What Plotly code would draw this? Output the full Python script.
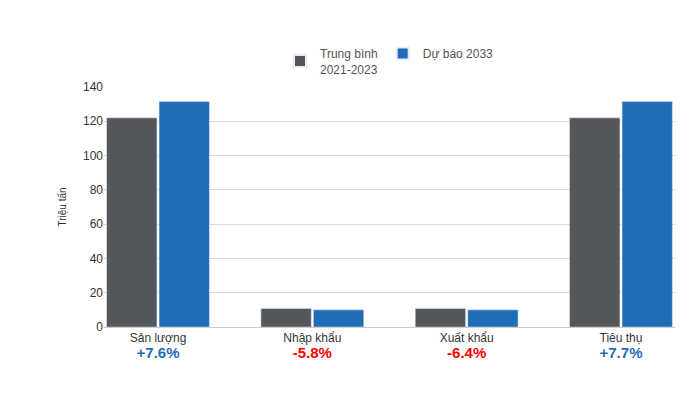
import plotly.graph_objects as go

categories = ["Sản lượng", "Nhập khẩu", "Xuất khẩu", "Tiêu thụ"]
changes = ["+7.6%", "-5.8%", "-6.4%", "+7.7%"]
avg_2021_2023 = [122, 10.8, 10.8, 122]
forecast_2033 = [131.5, 10.0, 10.0, 131.5]

ticktext = []
for c, ch in zip(categories, changes):
    col = "#1f6eb5" if ch.startswith("+") else "#ff0000"
    ticktext.append(f"{c}<br><span style='color:{col};font-size:15px'><b>{ch}</b></span>")

pos = list(range(len(categories)))
fig = go.Figure()
fig.add_bar(x=pos, y=avg_2021_2023, name="Trung bình<br>2021-2023", marker_color="#54575b")
fig.add_bar(x=pos, y=forecast_2033, name="Dự báo 2033", marker_color="#1f6eb5")
fig.update_layout(
    width=700, height=400, barmode="group", bargap=0.32, bargroupgap=0.04,
    plot_bgcolor="white", paper_bgcolor="white",
    margin=dict(l=96, r=33, t=79, b=81),
    font=dict(family="Liberation Sans, Arial", size=12, color="#333"),
    legend=dict(orientation="h", x=0.5, xanchor="center", y=1.2, yanchor="top",
                font=dict(size=12, color="#555"), itemsizing="constant"),
    xaxis=dict(tickmode="array", tickvals=pos, ticktext=ticktext, range=[-0.35, 3.35],
               showline=True, linecolor="#ccc", tickfont=dict(size=12, color="#333")),
    yaxis=dict(range=[0, 140], dtick=20, gridcolor="#d9d9d9", zeroline=False,
               title=dict(text="Triệu tấn", font=dict(size=10), standoff=14),
               tickfont=dict(size=12, color="#333")),
)
fig.write_html("out.html")
